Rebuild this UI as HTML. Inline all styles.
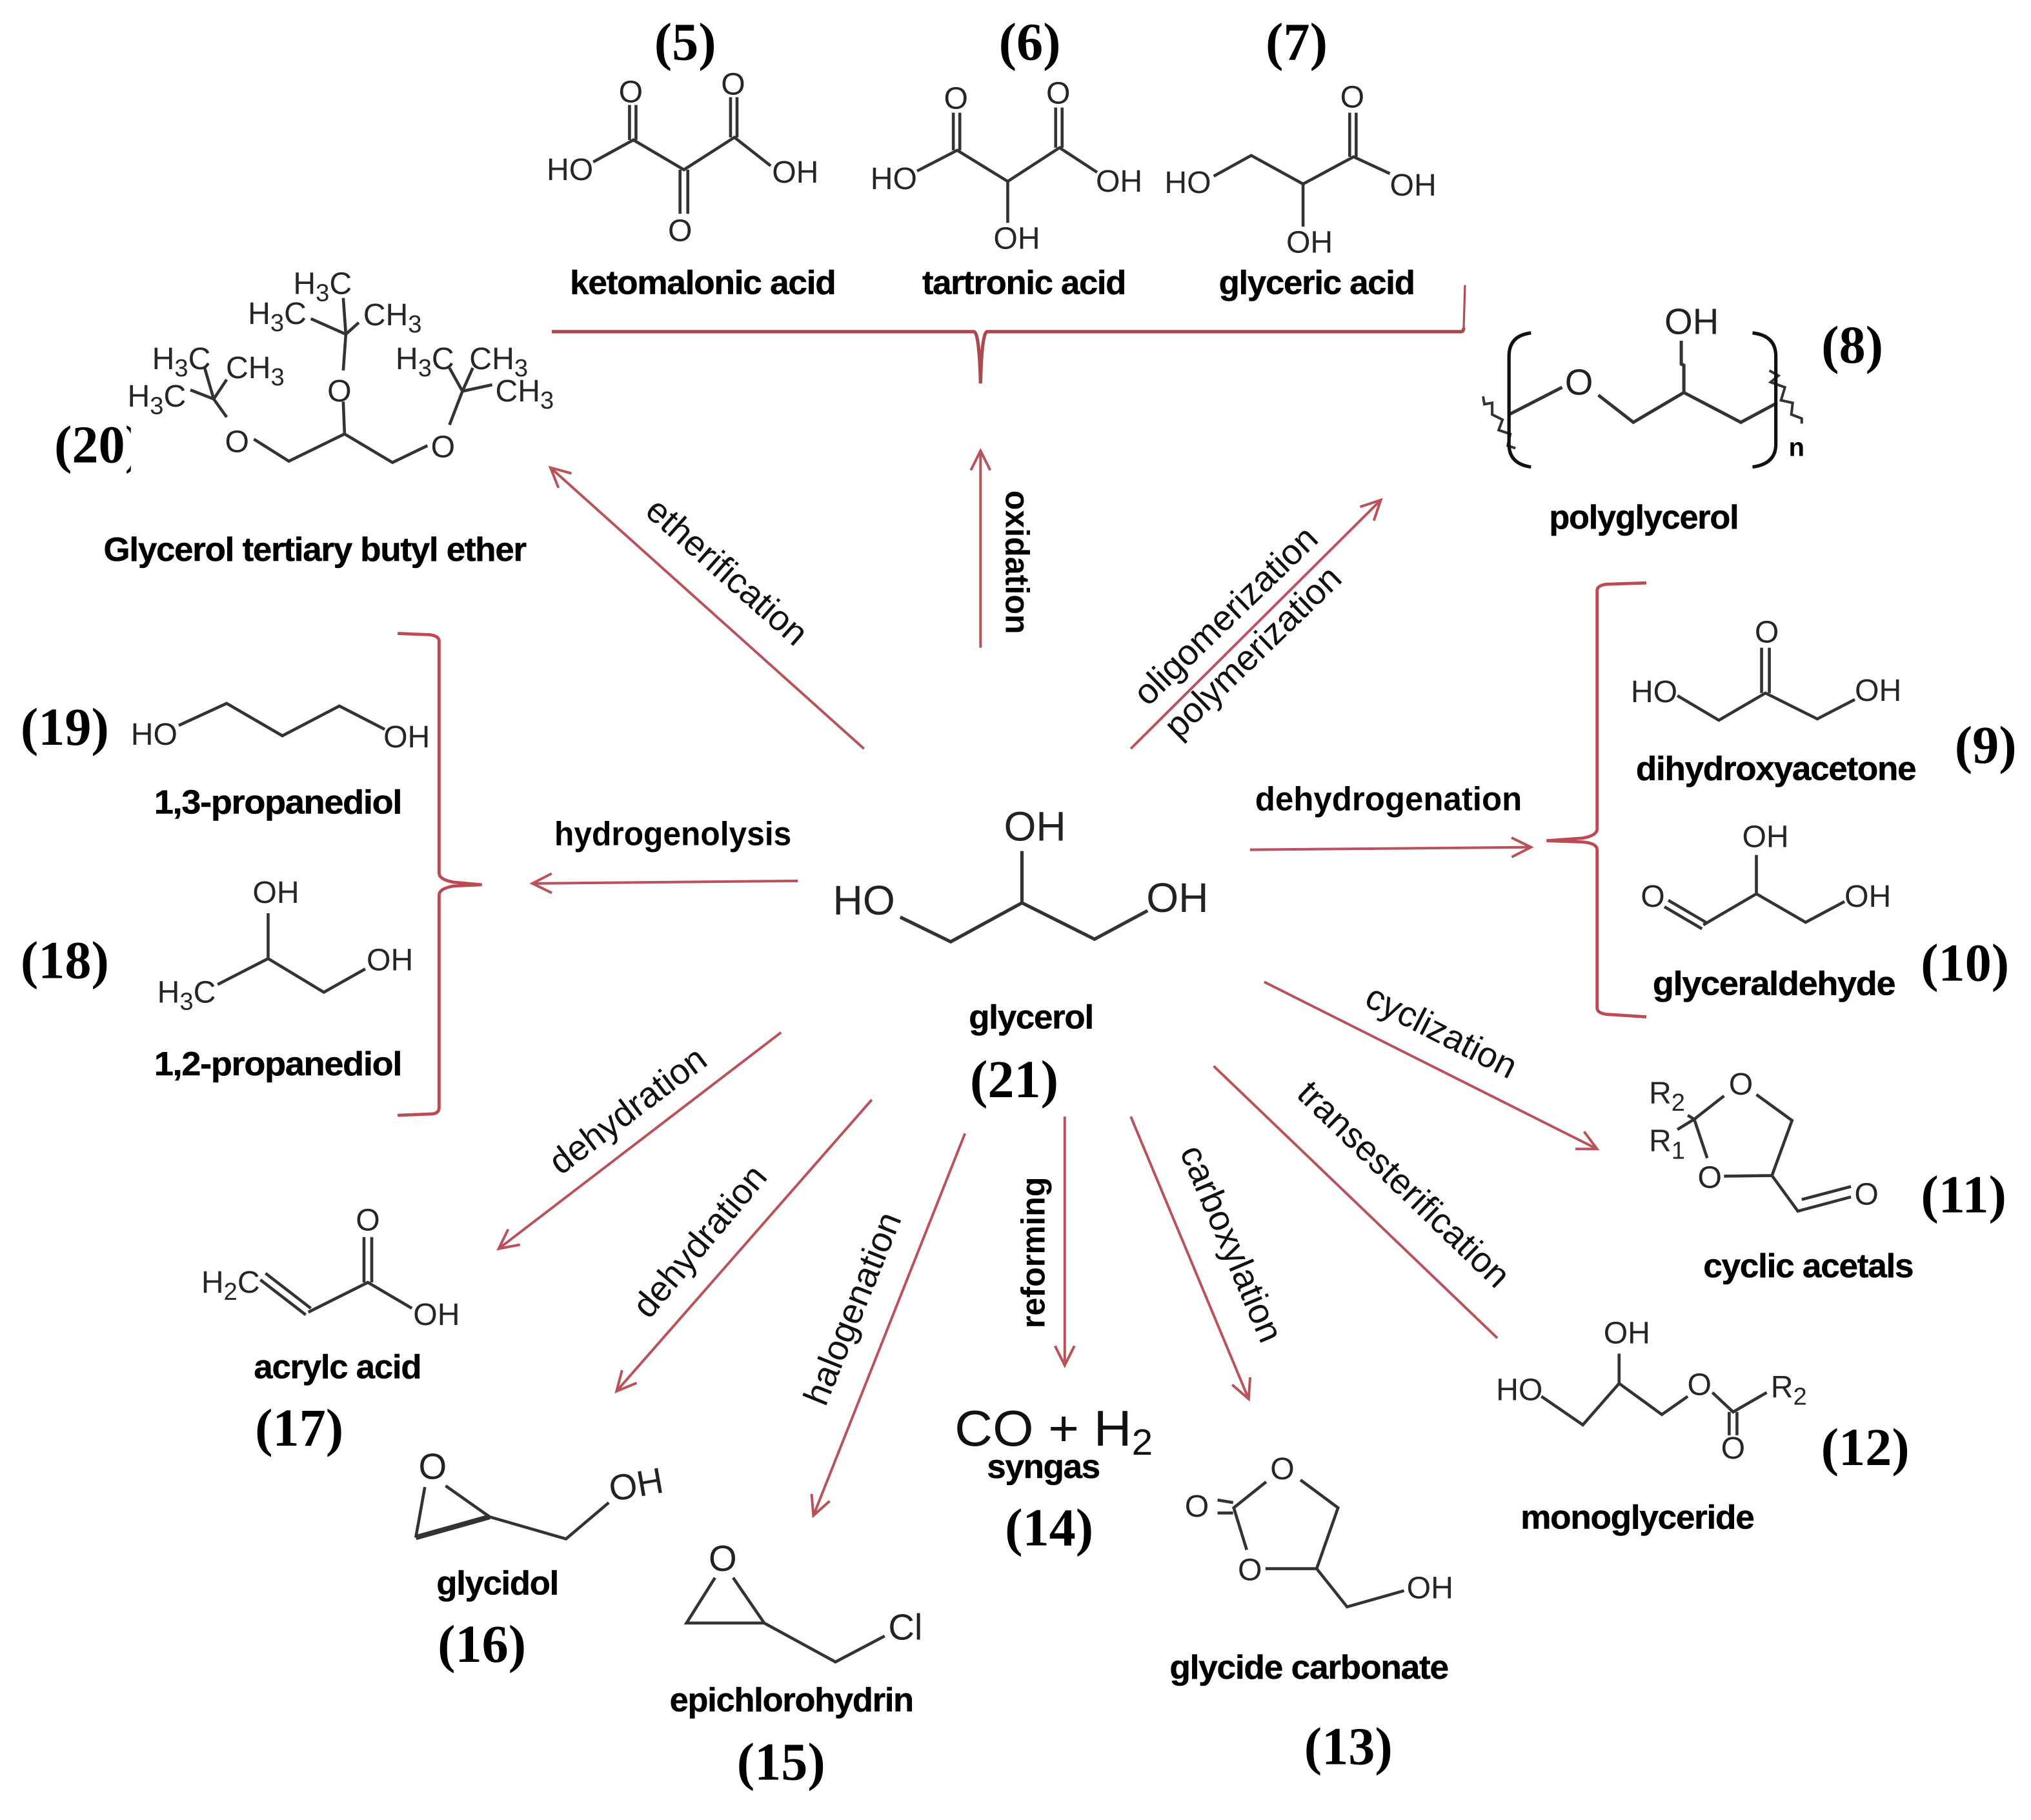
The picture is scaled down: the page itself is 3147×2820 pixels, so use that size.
<!DOCTYPE html>
<html><head><meta charset="utf-8"><style>
html,body{margin:0;padding:0;background:#fff;width:3147px;height:2820px;overflow:hidden}
svg{display:block}
text{font-family:"Liberation Sans",sans-serif;fill:#000}
.n{font-family:"Liberation Serif",serif;font-weight:bold;font-size:41px;text-anchor:middle}
.l{font-weight:bold;font-size:26px;letter-spacing:-.6px;stroke:#000;stroke-width:.25}
.r{font-size:27.5px;text-anchor:middle;fill:#111;dominant-baseline:central}
.b{font-weight:bold;font-size:26px;text-anchor:middle;fill:#000;dominant-baseline:central}
.a{font-size:24px;text-anchor:middle;fill:#262626;dominant-baseline:central}
.A{font-size:32px;text-anchor:middle;fill:#222;dominant-baseline:central}
.m path{fill:none;stroke:#333;stroke-width:2.3;stroke-linejoin:miter}
.q{fill:none;stroke:#b9525a;stroke-width:2}
.br{fill:none;stroke:#bc4a55;stroke-width:2.4}
</style></head><body>
<svg width="3147" height="2820" viewBox="0 0 1568 1405" xmlns="http://www.w3.org/2000/svg">
<defs><marker id="h" markerUnits="userSpaceOnUse" markerWidth="24" markerHeight="24" refX="20" refY="12" orient="auto"><path d="M5 4.5L20 12L5 19.5" fill="none" stroke="#b9525a" stroke-width="2"/></marker></defs>

<!-- connectors -->
<path class="q" marker-end="url(#h)" d="M757 500L757 348"/>
<path class="q" marker-end="url(#h)" d="M667 578L425 361"/>
<path class="q" marker-end="url(#h)" d="M873 578L1066 386"/>
<path class="q" marker-end="url(#h)" d="M616 680L411 682"/>
<path class="q" marker-end="url(#h)" d="M965 656L1182 654"/>
<path class="q" marker-end="url(#h)" d="M976 758L1233 887"/>
<path class="q" d="M937 823L1156 1033"/>
<path class="q" marker-end="url(#h)" d="M873 862L964 1080"/>
<path class="q" marker-end="url(#h)" d="M822 862L822 1054"/>
<path class="q" marker-end="url(#h)" d="M745 875L628 1170"/>
<path class="q" marker-end="url(#h)" d="M673 849L476 1074"/>
<path class="q" marker-end="url(#h)" d="M603 797L385 964"/>

<!-- braces -->
<path class="br" style="stroke:#a84a50;stroke-width:2.6" d="M426 256L752 256Q756 257 757 296M757 296Q758 257 762 256L1128 256Q1130 256 1130 253"/>
<path class="br" style="stroke:#b24a50;stroke-width:1.6" d="M1130 254L1131 220"/>
<path class="br" d="M1271 450L1240 451Q1233 452 1233 456L1233 640Q1233 645 1222 647L1194 649L1222 650Q1233 651 1233 656L1233 778Q1233 782 1240 783L1271 785"/>
<path class="br" d="M307 489L332 490Q339 491 339 495L339 674Q339 679 350 681L372 683L350 684Q339 686 339 691L339 855Q339 860 332 860L307 861"/>

<!-- connector labels -->
<text class="b" transform="translate(785 434) rotate(90)" textLength="111" lengthAdjust="spacingAndGlyphs">oxidation</text>
<text class="r" transform="translate(561.5 441) rotate(41.5)">etherification</text>
<text class="r" transform="translate(946 475) rotate(-44)">oligomerization</text>
<text class="r" transform="translate(967 503) rotate(-44)">polymerization</text>
<text class="b" x="519.5" y="644" textLength="183" lengthAdjust="spacingAndGlyphs">hydrogenolysis</text>
<text class="b" x="1072" y="617" textLength="206" lengthAdjust="spacingAndGlyphs">dehydrogenation</text>
<text class="r" transform="translate(1113 796) rotate(27)">cyclization</text>
<text class="r" transform="translate(1084 914) rotate(44)">transesterification</text>
<text class="r" transform="translate(951 960) rotate(67)">carboxylation</text>
<text class="b" transform="translate(798 967) rotate(-90)" textLength="117" lengthAdjust="spacingAndGlyphs">reforming</text>
<text class="r" transform="translate(658 1010) rotate(-68)">halogenation</text>
<text class="r" transform="translate(540 958) rotate(-50)">dehydration</text>
<text class="r" transform="translate(484.5 857) rotate(-37)">dehydration</text>

<!-- numbers -->
<text class="n" x="529" y="46">(5)</text><text class="n" x="795" y="46">(6)</text><text class="n" x="1001" y="46">(7)</text>
<text class="n" x="1430" y="280">(8)</text><text class="n" x="1533" y="589">(9)</text><text class="n" x="1517" y="757">(10)</text>
<text class="n" x="1516" y="936">(11)</text><text class="n" x="1440" y="1131">(12)</text><text class="n" x="1041" y="1362">(13)</text>
<text class="n" x="810" y="1193">(14)</text><text class="n" x="603" y="1374">(15)</text><text class="n" x="372" y="1283">(16)</text>
<text class="n" x="231" y="1116">(17)</text><text class="n" x="50" y="755">(18)</text><text class="n" x="50" y="575">(19)</text>
<text class="n" x="76" y="357">(20)</text><rect x="101" y="320" width="30" height="50" fill="#fff"/>
<text class="n" x="783" y="847">(21)</text>

<!-- compound labels -->
<text class="l" x="440" y="227" textLength="205" lengthAdjust="spacingAndGlyphs">ketomalonic acid</text>
<text class="l" x="712" y="227" textLength="157" lengthAdjust="spacingAndGlyphs">tartronic acid</text>
<text class="l" x="941" y="227" textLength="151" lengthAdjust="spacingAndGlyphs">glyceric acid</text>
<text class="l" x="80" y="433" textLength="326" lengthAdjust="spacingAndGlyphs">Glycerol tertiary butyl ether</text>
<text class="l" x="1196" y="408" textLength="146" lengthAdjust="spacingAndGlyphs">polyglycerol</text>
<text class="l" x="1263" y="602" textLength="216" lengthAdjust="spacingAndGlyphs">dihydroxyacetone</text>
<text class="l" x="1276" y="768" textLength="187" lengthAdjust="spacingAndGlyphs">glyceraldehyde</text>
<text class="l" x="1315" y="986" textLength="162" lengthAdjust="spacingAndGlyphs">cyclic acetals</text>
<text class="l" x="1174" y="1180" textLength="180" lengthAdjust="spacingAndGlyphs">monoglyceride</text>
<text class="l" x="903" y="1296" textLength="215" lengthAdjust="spacingAndGlyphs">glycide carbonate</text>
<text class="l" x="762" y="1141" textLength="87" lengthAdjust="spacingAndGlyphs">syngas</text>
<text class="l" x="517" y="1321" textLength="188" lengthAdjust="spacingAndGlyphs">epichlorohydrin</text>
<text class="l" x="337" y="1231" textLength="94" lengthAdjust="spacingAndGlyphs">glycidol</text>
<text class="l" x="196" y="1064" textLength="129" lengthAdjust="spacingAndGlyphs">acrylc acid</text>
<text class="l" x="119" y="830" textLength="191" lengthAdjust="spacingAndGlyphs">1,2-propanediol</text>
<text class="l" x="119" y="628" textLength="191" lengthAdjust="spacingAndGlyphs">1,3-propanediol</text>
<text class="l" x="748" y="794" textLength="96" lengthAdjust="spacingAndGlyphs">glycerol</text>

<!-- molecules -->
<g class="m">
<path d="M458 125L489 108L528 131L567 106L595 128M486 108L486 81M491 108L491 81M564 106L564 75M569 106L569 75M525 131L525 165M531 131L531 165"/>
<path d="M708 132L739 116L778 140L818 114L847 133M736 116L736 87M741 116L741 87M815 114L815 83M820 114L820 83M778 140L778 172"/>
<path d="M937 136L966 120L1006 142L1045 121L1073 134M1042 121L1042 87M1047 121L1047 87M1006 142L1006 175"/>
<path d="M196 339L223 356L266 335L303 357L330 344M266 335L265 310M265 286L267 258M240 246L267 258L277 249M267 258L265 230M175 322L165 308L147 301M165 308L158 284M165 308L175 293M347 328L357 302L347 284M357 302L365 284M357 302L380 297"/>
<path style="stroke-width:2.5" d="M1165 320L1206 299M1234 305L1261 326L1300 303L1344 326L1372 311M1300 303L1300 282L1298 281L1298 263"/>
<path style="stroke-width:2" d="M1145 306L1146 312L1152 311L1152 320L1160 324L1157 332L1166 335L1164 344L1170 346M1366 286L1373 290L1367 295L1378 299L1375 309L1384 311L1383 320L1391 323L1391 327"/>
<path style="stroke:#111;stroke-width:2.6" d="M1182 257Q1165 259 1165 275L1165 343Q1165 358 1182 360.5M1353 257Q1371 259 1371 275L1371 343Q1371 358 1353 360.5"/>
<path d="M1295 537L1327 556L1363 535L1403 555L1432 540M1360 535L1360 500M1366 535L1366 500"/>
<path d="M1288 695L1317 712M1285 700L1314 717M1315 714L1356 690L1394 712L1424 696M1356 690L1356 660"/>
<path style="stroke-width:2.6" d="M695 708L734 727L789 697L845 725L886 703M789 657L789 697"/>
<path d="M138 560L175 543L218 568L262 545L297 563"/>
<path d="M168 760L207 740L250 766L282 748M207 740L207 705"/>
<path d="M205 983L240 1010M201 988L236 1015M238 1013L284 990L318 1010M281 990L281 955M287 990L287 955"/>
<path d="M328 1148L321 1187M344 1147L378 1171L437 1188L470 1160"/><path style="stroke-width:4" d="M321 1187L378 1171"/>
<path d="M552 1218L530 1253L590 1253L645 1283L683 1263M566 1218L590 1253"/>
<path d="M940 1158L952 1160M940 1168L952 1168M977.5 1144L952.5 1164L962.5 1196.5M977 1211L1016.5 1211L1033 1164L1004 1142.5M1016.5 1211L1040 1240.5L1084 1228"/>
<path d="M1190 1078L1222 1100L1250 1068L1283 1092L1303 1078M1250 1068L1250 1045M1322 1075L1338 1090L1364 1075M1335 1090L1335 1108M1341 1090L1341 1108"/>
<path d="M1331 846L1308 864L1318 894M1331 908L1368 907.5L1383.5 865L1356 845M1303 861L1308 864L1295 872M1368 907.5L1388 935L1429 924M1391 926L1429 916"/>
</g>

<!-- atom labels -->
<text class="a" x="440" y="131">HO</text><text class="a" x="614" y="133">OH</text><text class="a" x="487" y="71">O</text><text class="a" x="566" y="65">O</text><text class="a" x="525" y="178">O</text>
<text class="a" x="690" y="138">HO</text><text class="a" x="864" y="140">OH</text><text class="a" x="738" y="76">O</text><text class="a" x="817" y="72">O</text><text class="a" x="785" y="184">OH</text>
<text class="a" x="917" y="141">HO</text><text class="a" x="1091" y="143">OH</text><text class="a" x="1044" y="75">O</text><text class="a" x="1011" y="187">OH</text>
<text class="a" x="249" y="219">H<tspan font-size="19" dy="7">3</tspan><tspan dy="-7">C</tspan></text>
<text class="a" x="214" y="242">H<tspan font-size="19" dy="7">3</tspan><tspan dy="-7">C</tspan></text>
<text class="a" x="303" y="243">CH<tspan font-size="19" dy="7">3</tspan></text>
<text class="a" x="262" y="302">O</text>
<text class="a" x="140" y="277">H<tspan font-size="19" dy="7">3</tspan><tspan dy="-7">C</tspan></text>
<text class="a" x="197" y="284">CH<tspan font-size="19" dy="7">3</tspan></text>
<text class="a" x="121" y="306">H<tspan font-size="19" dy="7">3</tspan><tspan dy="-7">C</tspan></text>
<text class="a" x="183" y="341">O</text>
<text class="a" x="328" y="277">H<tspan font-size="19" dy="7">3</tspan><tspan dy="-7">C</tspan></text>
<text class="a" x="385" y="277">CH<tspan font-size="19" dy="7">3</tspan></text>
<text class="a" x="405" y="302">CH<tspan font-size="19" dy="7">3</tspan></text>
<text class="a" x="342" y="345">O</text>
<text class="A" style="font-size:28px" x="1219" y="295">O</text><text class="A" style="font-size:28px" x="1306" y="248">OH</text>
<text x="1387" y="352" style="font-size:20px;font-weight:bold;text-anchor:middle">n</text>
<text class="a" x="1277" y="534">HO</text><text class="a" x="1450" y="533">OH</text><text class="a" x="1364" y="488">O</text>
<text class="a" x="1276" y="692">O</text><text class="a" x="1442" y="692">OH</text><text class="a" x="1363" y="646">OH</text>
<text class="A" x="667" y="695">HO</text><text class="A" x="909" y="693">OH</text><text class="A" x="799" y="638">OH</text>
<text class="a" x="119" y="567">HO</text><text class="a" x="314" y="569">OH</text>
<text class="a" x="144" y="766">H<tspan font-size="19" dy="7">3</tspan><tspan dy="-7">C</tspan></text><text class="a" x="301" y="741">OH</text><text class="a" x="213" y="689">OH</text>
<text class="a" x="178" y="990">H<tspan font-size="19" dy="7">2</tspan><tspan dy="-7">C</tspan></text><text class="a" x="284" y="942">O</text><text class="a" x="337" y="1015">OH</text>
<text class="A" style="font-size:28px" x="334" y="1132">O</text><text class="A" style="font-size:28px" transform="translate(491 1146) rotate(-10)">OH</text>
<text class="A" style="font-size:28px" x="558" y="1203">O</text><text class="A" style="font-size:28px" x="699" y="1256">Cl</text>
<text x="737" y="1116" textLength="153" lengthAdjust="spacingAndGlyphs" style="font-size:39px;fill:#111">CO + H<tspan font-size="28" dy="7">2</tspan></text>
<text class="a" x="924" y="1163">O</text><text class="a" x="990" y="1134">O</text><text class="a" x="965" y="1212">O</text><text class="a" x="1104" y="1226">OH</text>
<text class="a" x="1173" y="1073">HO</text><text class="a" x="1256" y="1029">OH</text><text class="a" x="1312" y="1069">O</text><text class="a" x="1338" y="1118">O</text>
<text class="a" x="1381" y="1071">R<tspan font-size="19" dy="7">2</tspan></text>
<text class="a" x="1287" y="844">R<tspan font-size="19" dy="7">2</tspan></text><text class="a" x="1287" y="881">R<tspan font-size="19" dy="7">1</tspan></text>
<text class="a" x="1344" y="837">O</text><text class="a" x="1320" y="909">O</text><text class="a" x="1441" y="922">O</text>
<rect x="1156" y="1036" width="12" height="12" fill="#fff"/>
</svg>
</body></html>
